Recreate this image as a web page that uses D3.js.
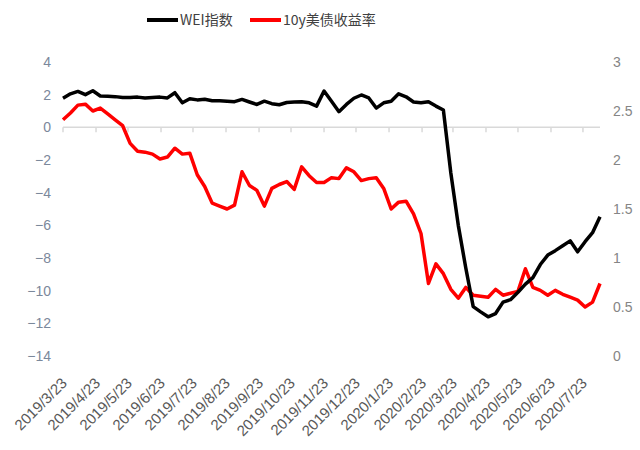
<!DOCTYPE html>
<html>
<head>
<meta charset="utf-8">
<script src="https://cdnjs.cloudflare.com/ajax/libs/d3/7.8.5/d3.min.js"></script>
<style>
    body { margin: 0; background: #fff; }
    svg { display: block; }
</style>
</head>
<body>
<div id="chart"></div>
<script>
// weekly data, weeks ending Saturday, first week 2019/3/23
var firstWeek = '2019/3/23';

var wei = [
    1.78, 2.05, 2.2, 2.0, 2.24, 1.92, 1.9, 1.88, 1.83, 1.82,
    1.85, 1.8, 1.83, 1.85, 1.8, 2.12, 1.5, 1.75, 1.68, 1.72,
    1.63, 1.62, 1.6, 1.57, 1.71, 1.55, 1.4, 1.6, 1.45, 1.38,
    1.52, 1.55, 1.57, 1.5, 1.3, 2.22, 1.6, 0.96, 1.4, 1.78,
    1.98, 1.8, 1.18, 1.5, 1.6, 2.05, 1.87, 1.55, 1.5, 1.57,
    1.3, 1.06, -2.8, -6.0, -8.6, -10.98, -11.3, -11.6, -11.4, -10.7,
    -10.55, -10.1, -9.6, -9.2, -8.4, -7.82, -7.55, -7.25, -6.95, -7.62,
    -7.0, -6.45, -5.47
];

var yield10y = [
    2.41, 2.48, 2.56, 2.57, 2.5, 2.53, 2.47, 2.41, 2.35, 2.17,
    2.09, 2.08, 2.06, 2.01, 2.03, 2.12, 2.06, 2.07, 1.85, 1.73,
    1.56, 1.53, 1.5, 1.54, 1.88, 1.74, 1.69, 1.53, 1.71, 1.75,
    1.78, 1.7, 1.93, 1.84, 1.77, 1.77, 1.82, 1.81, 1.92, 1.88,
    1.79, 1.81, 1.82, 1.71, 1.5, 1.57, 1.58, 1.45, 1.25, 0.74,
    0.94, 0.84, 0.68, 0.59, 0.7, 0.62, 0.61, 0.6, 0.68, 0.62,
    0.64, 0.66, 0.89, 0.7, 0.67, 0.62, 0.67, 0.63, 0.6, 0.57,
    0.5, 0.55, 0.74
];

var xTickLabels = [
    '2019/3/23', '2019/4/23', '2019/5/23', '2019/6/23', '2019/7/23', '2019/8/23',
    '2019/9/23', '2019/10/23', '2019/11/23', '2019/12/23', '2020/1/23', '2020/2/23',
    '2020/3/23', '2020/4/23', '2020/5/23', '2020/6/23', '2020/7/23'
];
var leftTicks = [4, 2, 0, -2, -4, -6, -8, -10, -12, -14];
var rightTicks = [3, 2.5, 2, 1.5, 1, 0.5, 0];
var seriesNames = ['WEI指数', '10y美债收益率'];
var seriesColors = ['#000000', '#ff0000'];

var width = 640;
var height = 450;
var plot = { left: 63, right: 600, top: 62, bottom: 356 };

var parse = d3.timeParse('%Y/%m/%d');
var start = parse(firstWeek);
var dates = wei.map(function (d, i) { return d3.timeDay.offset(start, 7 * i); });

var x = d3.scaleTime()
    .domain([dates[0], dates[dates.length - 1]])
    .range([plot.left, plot.right]);
var yLeft = d3.scaleLinear().domain([-14, 4]).range([plot.bottom, plot.top]);
var yRight = d3.scaleLinear().domain([0, 3]).range([plot.bottom, plot.top]);

var svg = d3.select('#chart').append('svg')
    .attr('width', width)
    .attr('height', height);

// zero line with month ticks
var zeroY = yLeft(0);
svg.append('line')
    .attr('x1', plot.left).attr('x2', plot.right)
    .attr('y1', zeroY).attr('y2', zeroY)
    .attr('stroke', '#d9d9d9')
    .attr('stroke-width', 1.5);

var tickDates = xTickLabels.map(parse);
svg.selectAll('.xtick')
    .data(tickDates)
    .enter().append('line')
    .attr('class', 'xtick')
    .attr('x1', function (d) { return x(d); })
    .attr('x2', function (d) { return x(d); })
    .attr('y1', zeroY)
    .attr('y2', zeroY + 5)
    .attr('stroke', '#d9d9d9')
    .attr('stroke-width', 1.5);

svg.selectAll('.xlabel')
    .data(xTickLabels)
    .enter().append('text')
    .attr('class', 'xlabel')
    .attr('text-anchor', 'end')
    .attr('transform', function (d) {
        return 'translate(' + (x(parse(d)) + 5) + ',' + 384 + ') rotate(-45)';
    })
    .attr('font-family', 'Liberation Sans, Arial, sans-serif')
    .attr('font-size', 15)
    .attr('fill', '#595959')
    .text(function (d) { return d; });

// left axis labels
svg.selectAll('.ylabel')
    .data(leftTicks)
    .enter().append('text')
    .attr('class', 'ylabel')
    .attr('x', 51)
    .attr('y', function (d) { return yLeft(d); })
    .attr('dy', '0.35em')
    .attr('text-anchor', 'end')
    .attr('font-family', 'Liberation Sans, Arial, sans-serif')
    .attr('font-size', 14)
    .attr('fill', '#7b889b')
    .text(function (d) { return d < 0 ? '\u2212' + (-d) : d; });

// right axis labels
svg.selectAll('.rlabel')
    .data(rightTicks)
    .enter().append('text')
    .attr('class', 'rlabel')
    .attr('x', 613)
    .attr('y', function (d) { return yRight(d); })
    .attr('dy', '0.35em')
    .attr('text-anchor', 'start')
    .attr('font-family', 'Liberation Sans, Arial, sans-serif')
    .attr('font-size', 14)
    .attr('fill', '#858585')
    .text(function (d) { return d; });

// lines
var lineLeft = d3.line()
    .x(function (d, i) { return x(dates[i]); })
    .y(function (d) { return yLeft(d); });
var lineRight = d3.line()
    .x(function (d, i) { return x(dates[i]); })
    .y(function (d) { return yRight(d); });

svg.append('path')
    .datum(yield10y)
    .attr('d', lineRight)
    .attr('fill', 'none')
    .attr('stroke', seriesColors[1])
    .attr('stroke-width', 3.5)
    .attr('stroke-linejoin', 'round');

svg.append('path')
    .datum(wei)
    .attr('d', lineLeft)
    .attr('fill', 'none')
    .attr('stroke', seriesColors[0])
    .attr('stroke-width', 3.5)
    .attr('stroke-linejoin', 'round');

// legend
var legendX = [147, 250];
var legend = svg.selectAll('.legend')
    .data(seriesNames)
    .enter().append('g')
    .attr('class', 'legend')
    .attr('transform', function (d, i) { return 'translate(' + legendX[i] + ',20)'; });

legend.append('line')
    .attr('x1', 0).attr('x2', 31)
    .attr('y1', 0).attr('y2', 0)
    .attr('stroke', function (d, i) { return seriesColors[i]; })
    .attr('stroke-width', 4);

legend.append('text')
    .attr('x', 33)
    .attr('y', 0)
    .attr('dy', '0.36em')
    .attr('font-family', 'Noto Sans CJK SC, sans-serif')
    .attr('font-size', 14)
    .attr('fill', '#404040')
    .text(function (d) { return d; });
</script>
</body>
</html>
